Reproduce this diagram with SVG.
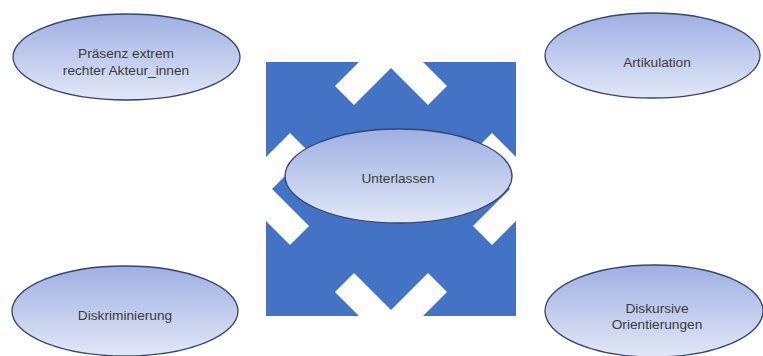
<svg xmlns="http://www.w3.org/2000/svg" width="763" height="356" viewBox="0 0 763 356">
  <style>
    .node ellipse { fill: url(#g); stroke: #34446f; stroke-width: 1.3; }
    .node text { font-family: "Liberation Sans", Arial, sans-serif; font-size: 13.7px; fill: #3a3a3a; text-anchor: middle; }
    .cut { fill: #ffffff; }
  </style>
  <defs>
    <linearGradient id="g" x1="0" y1="0" x2="0" y2="1">
      <stop offset="0" stop-color="#9eafe2"/>
      <stop offset="1" stop-color="#e2e8f7"/>
    </linearGradient>
  </defs>
  <rect width="763" height="356" fill="#ffffff"/>
  <g id="connectors">
    <rect x="266" y="62" width="250" height="254" fill="#4472c4"/>
    <polygon class="cut" points="359,62 335,86 354,105 391,68 428,105 447,86 423,62"/>
    <polygon class="cut" points="359,316 335,292 354,273 391,310 428,273 447,292 423,316"/>
    <polygon class="cut" points="266,157 290,133 309,152 272,189 309,226 290,245 266,221"/>
    <polygon class="cut" points="516,157 492,133 473,152 510,189 473,226 492,245 516,221"/>
  </g>
  <g id="n-praesenz" class="node">
    <ellipse cx="126.5" cy="57" rx="113.5" ry="43"/>
    <text x="126" y="58">Präsenz extrem</text>
    <text x="126" y="75">rechter Akteur_innen</text>
  </g>
  <g id="n-artikulation" class="node">
    <ellipse cx="652.5" cy="55.5" rx="107.5" ry="42.5"/>
    <text x="657" y="67">Artikulation</text>
  </g>
  <g id="n-diskriminierung" class="node">
    <ellipse cx="125" cy="311" rx="113" ry="45"/>
    <text x="125" y="320">Diskriminierung</text>
  </g>
  <g id="n-diskursive" class="node">
    <ellipse cx="654" cy="311" rx="109" ry="46"/>
    <text x="657" y="313">Diskursive</text>
    <text x="657" y="329">Orientierungen</text>
  </g>
  <g id="n-unterlassen" class="node">
    <ellipse cx="398.5" cy="176" rx="113.5" ry="47"/>
    <text x="398" y="183">Unterlassen</text>
  </g>
</svg>
